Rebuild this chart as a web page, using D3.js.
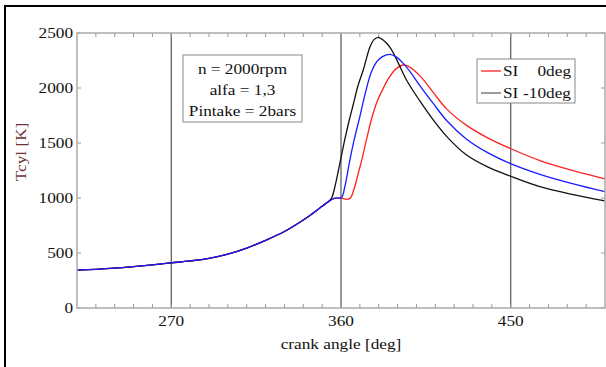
<!DOCTYPE html>
<html><head><meta charset="utf-8">
<script src="https://cdn.jsdelivr.net/npm/d3@7"></script>
<style>body{margin:0;background:#fff}svg{display:block}</style>
</head><body>
<svg id="c" width="606" height="367"></svg>
<script>
// ---- data ----
const commonAngle = [220,230,240,250,260,270,280,290,300,310,320,330,340,345,350,353];
const commonTemp  = [345,352,362,376,392,410,428,452,490,545,615,695,800,860,925,963];

const redAngle = [355,357,360,362,363.5,365,367,369,371,373.5,376.2,379,382.4,385,387.7,390,393,396,401.9,408.9,416,426.6,438,449.6,465.5,483.2,500];
const redTemp  = [985,998,1000,992,987,1000,1085,1215,1345,1530,1718,1870,1997,2080,2148,2185,2209,2195,2110,1960,1810,1660,1545,1452,1340,1248,1173];

const blueAngle = [355,357,360.3,362,364.7,367,370,373,376,379,382,386,389,393,397,401.9,408.9,416,426.6,438,449.6,465.5,483.2,500];
const blueTemp  = [985,998,1005,1100,1345,1530,1740,1960,2140,2240,2285,2306,2285,2224,2140,2020,1860,1705,1535,1410,1315,1215,1128,1057];

const blackAngle = [355,357,359.4,362,364.4,366.5,369,371.8,375.4,377.5,379.7,382,386,390,394.8,401.9,408.9,416,426.6,438,449.6,465.5,483.2,500];
const blackTemp  = [1000,1120,1315,1530,1709,1850,2020,2164,2376,2440,2461,2440,2370,2240,2070,1880,1710,1560,1390,1280,1200,1103,1030,973];

const xTicks = [270,360,450];
const yTicks = [0,500,1000,1500,2000,2500];
const minorX = d3.range(230,500,10);
const legendItems = [{label:["SI","0deg"], color:"#ff2020"},{label:["SI","-10deg"], color:"#666"}];
const noteLines = ["n = 2000rpm","alfa = 1,3","Pintake = 2bars"];

// ---- drawing ----
const svg = d3.select("#c");
const FONT = "'Liberation Serif','Times New Roman',serif";
const SX = 1.15;
const L=77, R=605, T=33, B=308;
const x = d3.scaleLinear().domain([220,500]).range([L,R]);
const y = d3.scaleLinear().domain([0,2500]).range([B,T]);

// outer frame (left and top)
svg.append("line").attr("x1",5).attr("x2",5).attr("y1",5).attr("y2",367).attr("stroke","#000").attr("stroke-width",2);
svg.append("line").attr("x1",5).attr("x2",606).attr("y1",6).attr("y2",6).attr("stroke","#000").attr("stroke-width",2);

function txt(g, str, px, py, anchor, size, color, rot){
  return g.append("text")
    .attr("transform", `translate(${px},${py})` + (rot?` rotate(${rot})`:"") + ` scale(${SX},1)`)
    .attr("text-anchor", anchor).attr("font-family", FONT).attr("font-size", size)
    .attr("fill", color||"#111").text(str);
}

// vertical grid lines
svg.append("g").selectAll("line").data(xTicks).join("line")
  .attr("x1",d=>x(d)).attr("x2",d=>x(d)).attr("y1",T).attr("y2",B)
  .attr("stroke","#555").attr("stroke-width",1.2);

// minor ticks
const tk = svg.append("g").attr("stroke","#999").attr("stroke-width",1);
minorX.forEach(d=>{
  tk.append("line").attr("x1",x(d)).attr("x2",x(d)).attr("y1",B).attr("y2",B-4);
  tk.append("line").attr("x1",x(d)).attr("x2",x(d)).attr("y1",T).attr("y2",T+4);
});
yTicks.forEach(d=>{
  tk.append("line").attr("x1",L).attr("x2",L+4).attr("y1",y(d)).attr("y2",y(d));
  tk.append("line").attr("x1",R).attr("x2",R-4).attr("y1",y(d)).attr("y2",y(d));
});

// series
const line = d3.line().x(d=>x(d[0])).y(d=>y(d[1])).curve(d3.curveCatmullRom.alpha(0.5));
function series(a,t){ return commonAngle.map((v,i)=>[v,commonTemp[i]]).concat(a.map((v,i)=>[v,t[i]])); }
const plot = svg.append("g");
plot.append("path").attr("d", line(series(redAngle,redTemp))).attr("fill","none").attr("stroke","#ff2020").attr("stroke-width",1.3);
plot.append("path").attr("d", line(series(blackAngle,blackTemp))).attr("fill","none").attr("stroke","#111").attr("stroke-width",1.3);
plot.append("path").attr("d", line(series(blueAngle,blueTemp))).attr("fill","none").attr("stroke","#1a1aff").attr("stroke-width",1.3);

// plot frame
svg.append("rect").attr("x",L).attr("y",T).attr("width",R-L).attr("height",B-T)
  .attr("fill","none").attr("stroke","#aaa").attr("stroke-width",1.5);

// tick labels
const lab = svg.append("g");
xTicks.forEach(d=> txt(lab, String(d), x(d), 326, "middle", 15));
yTicks.forEach(d=> txt(lab, String(d), 73, y(d)+5, "end", 15));
txt(lab, "crank angle [deg]", x(360), 349, "middle", 15);
txt(lab, "Tcyl [K]", 26, 152, "middle", 15, "#6e3434", -90);

// annotation box
const nb = svg.append("g");
nb.append("rect").attr("x",183).attr("y",55).attr("width",119).attr("height",67)
  .attr("fill","#fff").attr("stroke","#888").attr("stroke-width",1);
noteLines.forEach((s,i)=> txt(nb, s, 242.5, 74+i*21, "middle", 15));

// legend
const lg = svg.append("g");
lg.append("rect").attr("x",477).attr("y",59).attr("width",98).attr("height",44)
  .attr("fill","#fff").attr("stroke","#888").attr("stroke-width",1);
legendItems.forEach((it,i)=>{
  const yy = 71 + i*22;
  lg.append("line").attr("x1",481).attr("x2",501).attr("y1",yy).attr("y2",yy).attr("stroke",it.color).attr("stroke-width",1.3);
  txt(lg, it.label[0], 503, yy+5, "start", 15);
  txt(lg, it.label[1], 571, yy+5, "end", 15);
});
</script>
</body></html>
